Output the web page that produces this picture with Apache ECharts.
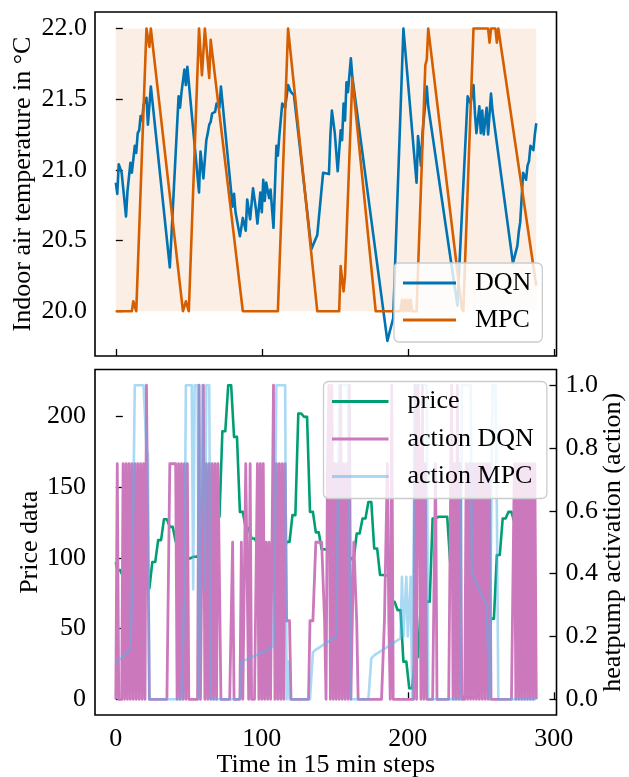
<!DOCTYPE html>
<html>
<head>
<meta charset="utf-8">
<script src="https://cdn.jsdelivr.net/npm/echarts@6/dist/echarts.min.js"></script>
<style>
  html, body { margin: 0; padding: 0; background: #ffffff; }
  #chart { width: 629px; height: 777px; }
</style>
</head>
<body>
<div id="chart"></div>
<script>
// ---- data -------------------------------------------------------------
// Indoor air temperature (°C) as [step, value] pairs
const dqnTemp = [
  [0,20.91],[1,20.83],[2,21.04],[4,20.98],[7,20.67],[8,20.85],[9,20.86],[10,21.05],[11,20.98],
  [13,21.17],[14,21.12],[15,21.26],[16,21.28],[17,21.38],[18,21.35],[19,21.46],[21,21.51],[22,21.32],
  [24,21.59],[37,20.31],[43,21.52],[44,21.44],[45,21.55],[47,21.71],[48,21.60],[49,21.73],[57,20.84],
  [58,21.13],[60,20.94],[62,21.21],[63,21.26],[64,21.32],[65,21.34],[66,21.40],[68,21.41],[69,21.47],
  [71,21.44],[72,21.59],[80,20.74],[81,20.83],[82,20.70],[85,20.53],[87,20.66],[89,20.57],[90,20.79],
  [92,20.65],[94,20.87],[96,20.72],[97,20.62],[99,20.84],[100,20.70],[101,20.93],[102,20.78],[103,20.91],
  [105,20.80],[106,20.86],[108,20.59],[110,21.17],[111,21.10],[112,21.24],[114,21.47],[116,21.44],
  [118,21.60],[120,21.55],[122,21.53],[134,20.44],[138,20.54],[142,20.98],[146,20.97],[147,21.25],
  [148,21.42],[150,21.26],[152,20.99],[154,21.28],[155,21.21],[156,21.47],[157,21.35],[158,21.62],
  [159,21.55],[161,21.79],[162,21.66],[186,19.79],[190,19.95],[197,22.00],[206,20.91],[207,21.24],
  [209,21.03],[210,21.25],[213,21.59],[214,21.45],[234,20.04],[241,21.52],[243,21.47],[245,21.60],
  [246,21.40],[247,21.26],[249,21.45],[250,21.26],[251,21.42],[252,21.25],[254,21.44],[255,21.25],
  [257,21.54],[258,21.42],[272,20.34],[275,20.46],[276,20.56],[277,20.63],[279,20.98],[281,20.93],
  [282,21.03],[283,21.06],[284,21.17],[286,21.14],[287,21.25],[288,21.33]
];
const mpcTemp = [
  [0,20.0],[11,20.0],[12,20.07],[14,20.0],[21,22.0],[23,21.87],[24,22.0],[25,22.0],[46,20.0],
  [48,20.07],[50,20.0],[57,22.0],[59,21.67],[61,22.0],[64,21.65],[65,21.92],[87,20.0],[111,20.0],
  [118,22.0],[138,20.0],[153,20.0],[154,20.32],[156,20.14],[157,20.25],[162,21.65],[178,20.0],
  [195,20.0],[196,20.08],[197,20.0],[198,20.08],[199,20.0],[200,20.08],[201,20.0],[202,20.08],
  [203,20.0],[206,20.0],[212,21.74],[213,21.78],[214,22.0],[237,20.02],[238,20.0],[245,22.0],
  [255,22.0],[256,21.9],[257,22.0],[260,22.0],[261,21.9],[262,22.0],[263,22.0],[288,20.18]
];
// comfort band
const comfortLow = 20.0;
const comfortHigh = 22.0;
const comfortStart = 0;
const comfortEnd = 288;

// price per 15 min step (steps 0..288)
const price = [
  97,91.3,91.3,91.3,91.3,86.6,86.6,86.6,86.6,84,84,84,
  84,82,82,82,82,80,80,80,80,78.4,78.4,78.4,
  78.4,97,97,97,97,112.5,112.5,112.5,112.5,127.3,127.3,127.3,
  127.3,121.9,121.9,121.9,121.9,111.3,111.3,111.3,111.3,104,104,104,
  104,99.6,99.6,99.6,99.6,100.7,100.7,100.7,100.7,101.9,101.9,101.9,
  101.9,106,106,106,106,116,116,116,116,129,129,129,
  129,189.5,189.5,189.5,189.5,222,222,222,222,185.5,185.5,185.5,
  185.5,132.5,132.5,132.5,132.5,121,121,121,121,113.7,113.7,113.7,
  113.7,110,110,110,110,103,103,103,103,100.7,100.7,100.7,
  100.7,101,101,101,101,104,104,104,104,111.3,111.3,111.3,
  111.3,130.2,130.2,130.2,130.2,202,202,202,202,199.6,199.6,199.6,
  199.6,132.5,132.5,132.5,132.5,118,118,118,118,106,106,106,
  106,105.4,105.4,105.4,105.4,89,89,89,89,88,88,88,
  88,94,94,94,94,99.6,99.6,99.6,99.6,117.2,117.2,117.2,
  117.2,127.8,127.8,127.8,127.8,139.5,139.5,139.5,139.5,106.6,106.6,106.6,
  106.6,87.8,87.8,87.8,87.8,87.5,87.5,87.5,87.5,68.9,68.9,68.9,
  68.9,63,63,63,63,26.6,26.6,26.6,26.6,7.8,7.8,7.8,
  7.8,30,30,30,30,69,69,69,69,69,69,69,
  69,127.8,127.8,127.8,127.8,129,129,129,129,129,129,129,
  129,97.2,97.2,97.2,97.2,50,50,50,50,1.8,1.8,1.8,
  1.8,1.8,1.8,1.8,1.8,1.8,1.8,1.8,1.8,10,10,10,
  10,30,30,30,30,57,57,57,57,102,102,102,
  102,127.8,127.8,127.8,127.8,132.5,132.5,132.5,132.5,125,125,125,
  125,115,115,115,115,100,100,100,100,90,90,90,
  90
];

// heat pump activation chosen by the DQN agent (steps 0..288)
const actionDqn = [
  0,.75,0,0,0,.75,0,.75,0,.75,0,.75,
  0,.75,0,.75,0,.75,0,.75,0,1,1,0,
  0,0,0,0,0,0,0,0,0,0,0,0,
  0,.75,.75,.75,.75,.75,0,.75,0,.75,0,.75,
  0,.75,0,0,0,0,0,0,0,1,0,0,
  1,0,.75,0,.75,0,.75,0,.75,0,.75,.75,
  0,0,0,0,0,0,0,0,.5,0,0,0,
  0,0,.5,0,0,.75,.75,0,.75,0,0,0,
  0,.75,0,.75,0,.75,0,.5,0,.5,0,0,
  1,0,.75,0,.75,0,.75,0,.75,.25,.25,.25,
  0,0,0,0,0,0,0,0,0,0,0,0,
  0,.25,.25,.25,.25,.5,.5,.5,.5,.5,.5,.25,
  0,.75,1,0,1,0,.75,0,.75,0,1,0,
  .75,0,.75,0,1,0,.25,.5,.5,.25,0,0,
  0,0,0,0,0,0,0,0,0,0,0,0,
  0,0,0,0,.25,.25,.75,.25,0,1,0,0,
  0,0,0,0,0,0,0,0,0,0,0,0,
  0,1,0,1,.75,0,1,0,.75,0,0,0,
  0,0,0,.75,0,0,0,0,0,0,0,0,
  0,0,1,0,.75,0,1,0,.75,0,0,0,
  .75,0,.75,0,.75,0,.75,0,.75,0,.75,0,
  .75,0,.75,0,.75,0,0,0,0,0,0,0,
  0,0,0,0,0,0,0,0,0,.75,0,.75,
  0,.75,0,.75,0,.75,0,.75,0,.75,0,.75,
  0
];

// heat pump activation chosen by the MPC controller (steps 0..288)
const actionMpc = [
  .12,.122,.125,.127,.13,.135,.14,.145,.15,.155,.16,.33,
  .62,1,1,1,1,1,1,1,1,.8,.78,0,
  0,0,0,0,0,0,0,0,0,0,0,0,
  0,0,0,0,0,0,0,0,0,0,0,.35,
  1,1,1,1,1,.35,1,1,1,0,0,1,
  1,.35,1,1,1,0,0,0,0,0,0,0,
  0,0,0,0,0,0,0,0,0,0,0,0,
  0,0,.12,.122,.124,.126,.128,.13,.132,.134,.136,.138,
  .14,.142,.144,.146,.148,.15,.153,.156,.159,.162,.165,.168,
  .17,.5,1,1,1,1,1,1,1,0,.12,0,
  0,0,0,0,0,0,0,0,0,0,0,0,
  0,0,0,.15,.155,.158,.161,.164,.167,.17,.173,.176,
  .179,.182,.185,.188,.19,.193,.196,.2,.6,1,1,1,
  1,1,1,1,1,0,0,0,0,0,0,0,
  0,0,0,0,0,0,0,.13,.135,.14,.143,.146,
  .149,.152,.155,.158,.161,.164,.167,.17,.173,.176,.179,.182,
  .185,.188,.191,.194,.39,.2,.2,.39,.2,.2,.39,0,
  0,1,1,1,1,1,1,1,1,1,0,0,
  0,0,0,0,0,0,0,0,0,0,0,0,
  0,0,0,0,0,0,0,0,0,1,1,1,
  1,1,1,1,.4,.39,.38,.37,.36,.35,.34,.33,
  .32,.31,.3,.3,0,0,1,1,1,.6,0,0,
  0,0,0,0,0,0,0,0,0,0,0,0,
  0,0,0,0,0,0,0,0,0,0,0,0,
  0
];

// axis ticks
const stepTicks = [0, 100, 200, 300];
const tempTicks = [20.0, 20.5, 21.0, 21.5, 22.0];
const priceTicks = [0, 50, 100, 150, 200];
const actionTicks = [0, 0.2, 0.4, 0.6, 0.8, 1.0];

// ---- styling ----------------------------------------------------------
const FONT = "'Liberation Serif', 'DejaVu Serif', serif";
const FS = 26;
const C_DQN = '#0173b2';
const C_MPC = '#d55e00';
const C_PRICE = '#029e73';
const C_ACT_DQN = '#cc78bc';
const C_ACT_MPC = '#56b4e9';

const withStep = arr => arr.map((v, i) => [i, v]);

const tickStyle = { color: '#000', width: 1.3 };
const labelStyle = { color: '#000', fontFamily: FONT, fontSize: FS };
const nameStyle = { color: '#000', fontFamily: FONT, fontSize: FS };

const xCommon = {
  type: 'value', min: -14.25, max: 301.85,
  axisLine: { show: false }, splitLine: { show: false },
  axisTick: { inside: true, length: 7, lineStyle: tickStyle, customValues: stepTicks }
};

const legendCommon = {
  orient: 'vertical', icon: 'rect', itemHeight: 3,
  selectedMode: false,
  backgroundColor: 'rgba(255,255,255,0.8)',
  borderColor: '#cccccc', borderWidth: 1.3, borderRadius: 5,
  textStyle: { color: '#000', fontFamily: FONT, fontSize: FS, lineHeight: 28, padding: [0, 0, 0, 14] }
};

const gridCommon = {
  left: 95, width: 461.5, show: true, borderColor: '#000', borderWidth: 1.6,
  backgroundColor: 'transparent', containLabel: false, outerBoundsMode: 'none'
};

const chart = echarts.init(document.getElementById('chart'), null, { renderer: 'canvas' });
chart.setOption({
  animation: false,
  backgroundColor: '#ffffff',
  grid: [
    Object.assign({}, gridCommon, { top: 12, height: 344 }),
    Object.assign({}, gridCommon, { top: 369.5, height: 345.5 })
  ],
  xAxis: [
    Object.assign({}, xCommon, { gridIndex: 0, axisLabel: { show: false } }),
    Object.assign({}, xCommon, {
      gridIndex: 1,
      axisLabel: Object.assign({ margin: 11, customValues: stepTicks }, labelStyle),
      name: 'Time in 15 min steps', nameLocation: 'middle', nameGap: 37, nameMoveOverlap: false,
      nameTextStyle: nameStyle
    })
  ],
  yAxis: [
    {
      type: 'value', gridIndex: 0, min: 19.683, max: 22.117,
      axisLine: { show: false }, splitLine: { show: false },
      axisTick: { inside: true, length: 7, lineStyle: tickStyle, customValues: tempTicks },
      axisLabel: Object.assign({ margin: 8, customValues: tempTicks, formatter: v => v.toFixed(1) }, labelStyle),
      name: 'Indoor air temperature in °C', nameLocation: 'middle', nameRotate: 90, nameGap: 59,
      nameMoveOverlap: false, nameTextStyle: nameStyle
    },
    {
      type: 'value', gridIndex: 1, min: -11.1, max: 233.1,
      axisLine: { show: false }, splitLine: { show: false },
      axisTick: { inside: true, length: 7, lineStyle: tickStyle, customValues: priceTicks },
      axisLabel: Object.assign({ margin: 9, customValues: priceTicks }, labelStyle),
      name: 'Price data', nameLocation: 'middle', nameRotate: 90, nameGap: 52,
      nameMoveOverlap: false, nameTextStyle: nameStyle
    },
    {
      type: 'value', gridIndex: 1, position: 'right', min: -0.05, max: 1.05,
      axisLine: { show: false }, splitLine: { show: false },
      axisTick: { inside: true, length: 7, lineStyle: tickStyle, customValues: actionTicks },
      axisLabel: Object.assign({ margin: 9, customValues: actionTicks, formatter: v => v.toFixed(1) }, labelStyle),
      name: 'heatpump activation (action)', nameLocation: 'middle', nameRotate: 90, nameGap: 44,
      nameMoveOverlap: false, nameTextStyle: nameStyle
    }
  ],
  legend: [
    Object.assign({}, legendCommon, {
      data: ['DQN', 'MPC'], left: 394, top: 263, itemWidth: 53, itemGap: 9, padding: [6, 11, 8, 9]
    }),
    Object.assign({}, legendCommon, {
      data: ['price', 'action DQN', { name: 'action MPC', itemStyle: { color: 'rgba(86,180,233,0.5)' } }],
      left: 323.5, top: 381.5, itemWidth: 56.5, itemGap: 9.5, padding: [6, 13, 8, 8.5]
    })
  ],
  series: [
    {
      name: 'DQN', type: 'line', xAxisIndex: 0, yAxisIndex: 0, data: dqnTemp,
      symbol: 'none', showSymbol: false,
      lineStyle: { color: C_DQN, width: 2.6, join: 'round' }, itemStyle: { color: C_DQN },
      markArea: {
        silent: true, itemStyle: { color: 'rgba(213,94,0,0.1)' },
        data: [[{ xAxis: comfortStart, yAxis: comfortLow }, { xAxis: comfortEnd, yAxis: comfortHigh }]]
      }
    },
    {
      name: 'MPC', type: 'line', xAxisIndex: 0, yAxisIndex: 0, data: mpcTemp,
      symbol: 'none', showSymbol: false,
      lineStyle: { color: C_MPC, width: 2.6, join: 'round' }, itemStyle: { color: C_MPC }
    },
    {
      name: 'price', type: 'line', xAxisIndex: 1, yAxisIndex: 1, data: withStep(price),
      symbol: 'none', showSymbol: false,
      lineStyle: { color: C_PRICE, width: 2.6, join: 'round' }, itemStyle: { color: C_PRICE }
    },
    {
      name: 'action DQN', type: 'line', xAxisIndex: 1, yAxisIndex: 2, data: withStep(actionDqn),
      symbol: 'none', showSymbol: false,
      lineStyle: { color: C_ACT_DQN, width: 2.8, join: 'round' }, itemStyle: { color: C_ACT_DQN }
    },
    {
      name: 'action MPC', type: 'line', xAxisIndex: 1, yAxisIndex: 2, data: withStep(actionMpc),
      symbol: 'none', showSymbol: false,
      lineStyle: { color: C_ACT_MPC, width: 2.6, join: 'round', opacity: 0.5 },
      itemStyle: { color: 'rgba(86,180,233,0.5)' }
    }
  ]
});
</script>
</body>
</html>
